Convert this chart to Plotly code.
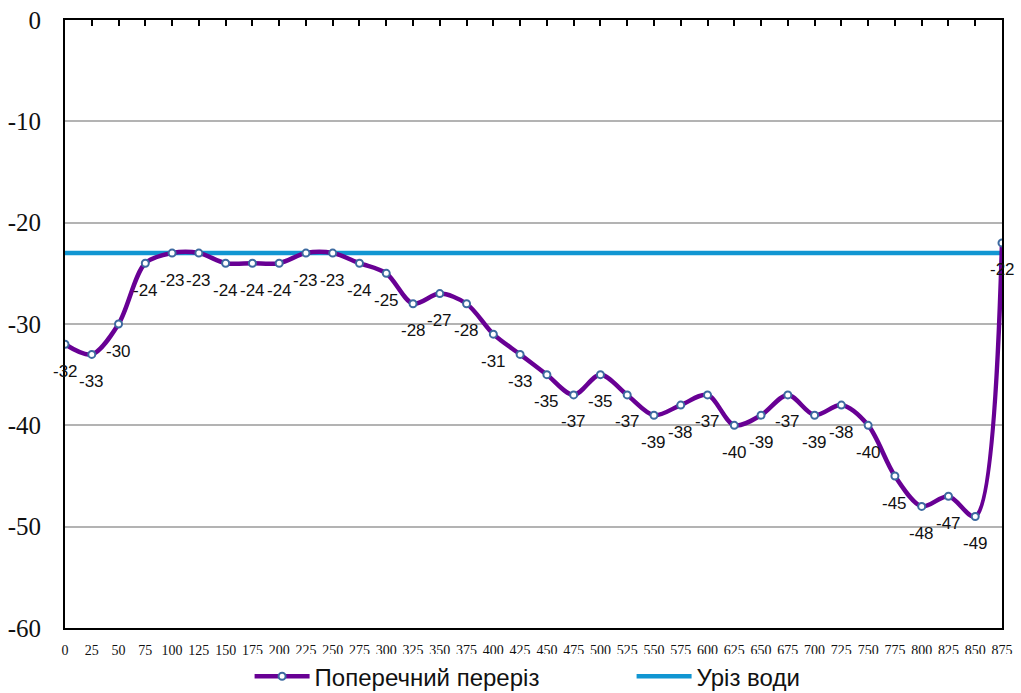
import plotly.graph_objects as go

distance = [0, 25, 50, 75, 100, 125, 150, 175, 200, 225, 250, 275, 300, 325, 350, 375,
            400, 425, 450, 475, 500, 525, 550, 575, 600, 625, 650, 675, 700, 725, 750,
            775, 800, 825, 850, 875]
depth = [-32, -33, -30, -24, -23, -23, -24, -24, -24, -23, -23, -24, -25, -28, -27, -28,
         -31, -33, -35, -37, -35, -37, -39, -38, -37, -40, -39, -37, -39, -38, -40,
         -45, -48, -47, -49, -22]
water_x = [0, 875]
water_level = [-23, -23]

series_names = ["Поперечний переріз", "Уріз води"]
y_ticks = [0, -10, -20, -30, -40, -50, -60]

fig = go.Figure()

fig.add_trace(go.Scatter(
    x=water_x, y=water_level, mode="lines", name=series_names[1],
    line=dict(color="#1196d2", width=4.5), legendrank=2,
))
fig.add_trace(go.Scatter(
    x=distance, y=depth, mode="lines+markers", name=series_names[0],
    line=dict(color="#680094", width=4.5, shape="spline", smoothing=0.9),
    marker=dict(symbol="circle", size=7, color="white",
                line=dict(color="#3d6aa0", width=2)),
    legendrank=1,
))
# invisible trace to drive top tick marks
fig.add_trace(go.Scatter(x=[0, 875], y=[None, None], xaxis="x2", showlegend=False,
                         hoverinfo="skip"))

for xv, yv in zip(distance, depth):
    fig.add_annotation(x=xv, y=yv, text=str(yv), showarrow=False, yshift=-27,
                       font=dict(family="Liberation Sans, Arial", size=17, color="#111111"))

fig.update_layout(
    width=1021, height=693,
    margin=dict(l=65, r=19, t=20, b=65, autoexpand=False),
    paper_bgcolor="white", plot_bgcolor="white",
    showlegend=True,
    legend=dict(orientation="h", x=0.197, xanchor="left", y=-0.08, yanchor="middle",
                font=dict(family="Liberation Sans, Arial", size=24, color="#111111"),
                itemwidth=55, entrywidth=312, traceorder="normal"),
    xaxis=dict(range=[0, 875], tickmode="array", tickvals=distance,
               ticktext=[str(d) for d in distance], automargin=False,
               showgrid=False, zeroline=False, showline=True, linecolor="black",
               linewidth=2, mirror=True, ticks="",
               tickfont=dict(family="Liberation Serif, Times New Roman", size=14, color="#111111"),
               ticklabelstandoff=8),
    xaxis2=dict(range=[0, 875], overlaying="x", side="top", tickmode="array",
                tickvals=distance, ticks="inside", ticklen=6, tickwidth=2, automargin=False,
                tickcolor="black", showticklabels=False, showgrid=False,
                zeroline=False, showline=False),
    yaxis=dict(range=[-60, 0], tickmode="array", tickvals=y_ticks,
               ticktext=[str(v) for v in y_ticks], automargin=False,
               showgrid=True, gridcolor="#b3b3b3", gridwidth=2, zeroline=False,
               showline=True, linecolor="black", linewidth=2, mirror=True, ticks="",
               tickfont=dict(family="Liberation Serif, Times New Roman", size=25, color="#111111"),
               ticklabelstandoff=17),
)

fig.write_html("out.html", config={"displayModeBar": False},
               post_script="document.body.style.margin='0px';")
